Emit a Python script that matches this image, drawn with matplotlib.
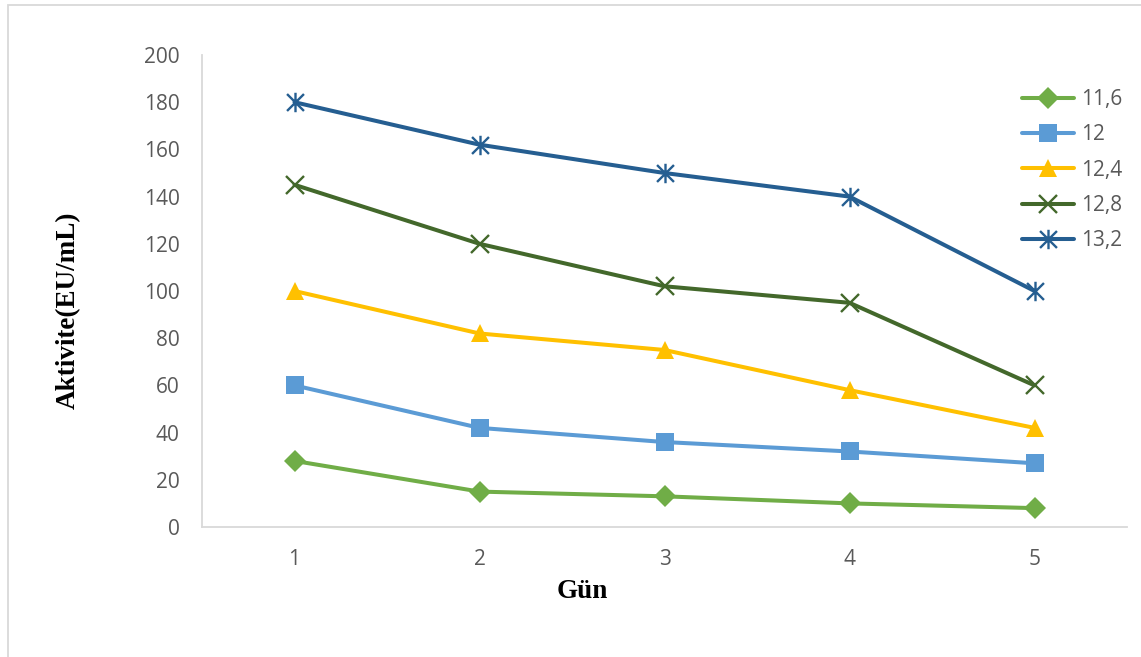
import numpy as np
import matplotlib
matplotlib.use('Agg')
import matplotlib.pyplot as plt
from matplotlib.path import Path
from matplotlib.patches import Rectangle

days = [1, 2, 3, 4, 5]
series_names = ['11,6', '12', '12,4', '12,8', '13,2']
v_116 = [28, 15, 13, 10, 8]
v_120 = [60, 42, 36, 32, 27]
v_124 = [100, 82, 75, 58, 42]
v_128 = [145, 120, 102, 95, 60]
v_132 = [180, 162, 150, 140, 100]
y_ticks = [0, 20, 40, 60, 80, 100, 120, 140, 160, 180, 200]

# asterisk marker: x plus vertical bar
ast = Path([(-1, -1), (1, 1), (-1, 1), (1, -1), (0, -1.15), (0, 1.15)],
           [Path.MOVETO, Path.LINETO, Path.MOVETO, Path.LINETO, Path.MOVETO, Path.LINETO])

styles = [
    dict(color='#70AD47', marker='D', ms=11),
    dict(color='#5B9BD5', marker='s', ms=12.5),
    dict(color='#FFC000', marker='^', ms=13.5),
    dict(color='#43682B', marker='x', ms=12.5, mew=1.7),
    dict(color='#255E91', marker=ast, ms=14, mew=1.7),
]
values = [v_116, v_120, v_124, v_128, v_132]

fig = plt.figure(figsize=(11.41, 6.57), dpi=100)
fig.patches.append(Rectangle((8/1141, -0.1), 1.2, (657-5)/657 + 0.1, transform=fig.transFigure,
                             fill=False, edgecolor='#d9d9d9', linewidth=1.3))
ax = fig.add_axes([202/1141, 1 - 527/657, (1127-202)/1141, (527-55)/657])

for name, vals, st in zip(series_names, values, styles):
    ax.plot(days, vals, linewidth=2.9, label=name, markeredgewidth=st.pop('mew', 0),
            markersize=st.pop('ms'), solid_capstyle='round', **st)

ax.set_xlim(0.5, 5.5)
ax.set_ylim(0, 200)
ax.set_xticks(days)
ax.set_yticks(y_ticks)
for s in ['top', 'right']:
    ax.spines[s].set_visible(False)
for s in ['left', 'bottom']:
    ax.spines[s].set_color('#d9d9d9')
    ax.spines[s].set_linewidth(1.3)
ax.tick_params(length=0, labelsize=15, labelcolor='#595959')
for lab in ax.get_xticklabels() + ax.get_yticklabels():
    lab.set_family('Open Sans')
ax.tick_params(axis='y', pad=16)
ax.tick_params(axis='x', pad=16)

ax.set_xlabel('Gün', fontsize=19.5, fontweight='bold', family='Liberation Serif')
ax.set_ylabel('Aktivite(EU/mL)', fontsize=19.5, fontweight='bold', family='Liberation Serif')
ax.xaxis.set_label_coords((582 - 202) / 925, -(592 - 527) / 472, transform=ax.transAxes)
ax.xaxis.label.set_va('center')
ax.yaxis.set_label_coords(-(202 - 68) / 925, (527 - 310) / 472, transform=ax.transAxes)
ax.yaxis.label.set_va('center')

ax.legend(loc='upper left', bbox_to_anchor=(1014/1141, 1 - 81/657), bbox_transform=fig.transFigure,
          frameon=False, prop={'family': 'Open Sans', 'size': 15}, labelcolor='#595959',
          handlelength=2.5, handletextpad=0.3, labelspacing=0.68, borderaxespad=0)

fig.savefig('out.png', dpi=100)
